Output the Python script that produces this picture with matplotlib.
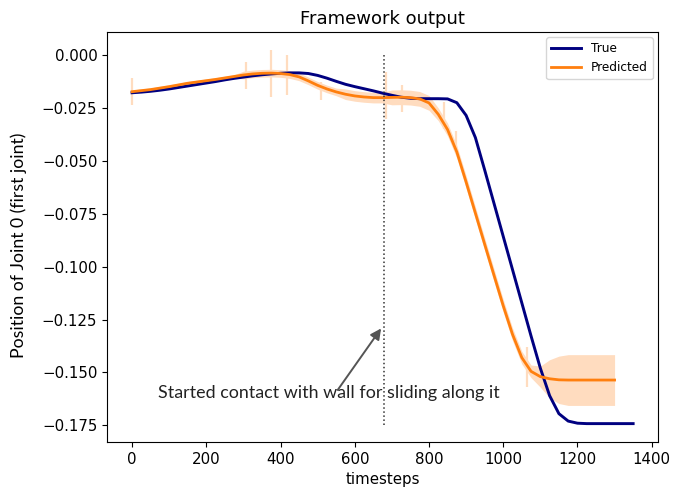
import numpy as np
import matplotlib.pyplot as plt

# Joint 0 position: ground truth vs framework prediction
true_steps = np.arange(0, 1351, 25)
true_pos = [
    -0.0178, -0.0175, -0.0171, -0.0166, -0.0160, -0.0153, -0.0146, -0.0139,
    -0.0132, -0.0125, -0.0117, -0.0110, -0.0104, -0.0098, -0.0093, -0.0089,
    -0.0086, -0.0084, -0.0084, -0.0087, -0.0096, -0.0109, -0.0124, -0.0138,
    -0.0149, -0.0159, -0.0169, -0.0180, -0.0190, -0.0199, -0.0204, -0.0206,
    -0.0206, -0.0206, -0.0207, -0.0225, -0.0285, -0.0390, -0.0543, -0.0700,
    -0.0857, -0.1014, -0.1171, -0.1328, -0.1480, -0.1610, -0.1695, -0.1730,
    -0.1740, -0.1742, -0.1742, -0.1742, -0.1742, -0.1742, -0.1742,
]

pred_steps = np.arange(0, 1301, 25)
pred_pos = [
    -0.0173, -0.0168, -0.0163, -0.0156, -0.0149, -0.0141, -0.0133, -0.0127,
    -0.0121, -0.0115, -0.0108, -0.0101, -0.0094, -0.0089, -0.0086, -0.0085,
    -0.0087, -0.0092, -0.0103, -0.0122, -0.0143, -0.0160, -0.0174, -0.0185,
    -0.0193, -0.0198, -0.0201, -0.0201, -0.0200, -0.0199, -0.0201, -0.0207,
    -0.0226, -0.0280, -0.0352, -0.0458, -0.0600, -0.0747, -0.0894, -0.1040,
    -0.1185, -0.1320, -0.1430, -0.1495, -0.1520, -0.1530, -0.1535, -0.1536,
    -0.1536, -0.1536, -0.1536, -0.1536, -0.1536,
]
pred_std = [
    0.0008, 0.0008, 0.0008, 0.0008, 0.0008, 0.0008, 0.0008, 0.0008,
    0.0008, 0.0008, 0.0008, 0.0008, 0.0018, 0.0018, 0.0018, 0.0018,
    0.0018, 0.0018, 0.0018, 0.0018, 0.0018, 0.0018, 0.0018, 0.0025,
    0.0025, 0.0025, 0.0025, 0.0025, 0.0035, 0.0035, 0.0035, 0.0035,
    0.0035, 0.0030, 0.0030, 0.0030, 0.0030, 0.0030, 0.0030, 0.0030,
    0.0030, 0.0030, 0.0030, 0.0030, 0.0050, 0.0090, 0.0112, 0.0120,
    0.0120, 0.0120, 0.0120, 0.0120, 0.0120,
]

# single timesteps where the prediction spread jumps
spike_steps = [0, 306, 375, 418, 508, 684, 728, 841, 873, 1065]
spike_low = [-0.0236, -0.0162, -0.0197, -0.0190, -0.0213, -0.0300, -0.0268,
             -0.0347, -0.0450, -0.1570]
spike_high = [-0.0110, -0.0032, 0.0024, 0.0000, -0.0126, -0.0080, -0.0142,
              -0.0220, -0.0360, -0.1380]

contact_step = 680
contact_range = (-0.175, 0.0)
arrow_head = (671, -0.1292)
arrow_tail = (554, -0.1583)
note_pos = (531, -0.1597)

band_color = '#ffdcbf'

fig = plt.figure(figsize=(6.73, 4.93), dpi=100)
ax = fig.add_axes([0.159, 0.1034, 0.819, 0.8316])

pred_pos = np.array(pred_pos)
pred_std = np.array(pred_std)
ax.fill_between(pred_steps, pred_pos - pred_std, pred_pos + pred_std,
                color=band_color, linewidth=0, zorder=1)
ax.vlines(spike_steps, spike_low, spike_high, color=band_color,
          linewidth=1.6, zorder=1)

ax.plot(true_steps, true_pos, color='navy', linewidth=2.1, label='True', zorder=3)
ax.plot(pred_steps, pred_pos, color='tab:orange', linewidth=2,
        label='Predicted', zorder=3)

ax.vlines(contact_step, *contact_range, colors='#333333', linestyles=':',
          linewidth=1.1, zorder=4)

ax.annotate('', xy=arrow_head, xytext=arrow_tail,
            arrowprops=dict(arrowstyle='-|>', color='#555555', lw=1.4,
                            mutation_scale=16, shrinkA=0, shrinkB=0))
ax.text(*note_pos, 'Started contact with wall for sliding along it',
        ha='center', va='center', fontsize=12.9, family='Lato', color='#222222')

ax.set_ylim(-0.1829, 0.0109)
ax.tick_params(labelsize=10.8)
ax.set_title('Framework output', fontsize=13, family='DejaVu Sans')
ax.set_xlabel('timesteps', fontsize=10.8, family='DejaVu Sans')
ax.set_ylabel('Position of Joint 0 (first joint)', fontsize=12.7, family='Lato')
ax.yaxis.set_label_coords(-0.145, 0.48)
ax.legend(loc='upper right', fontsize=8.7, handlelength=2.5,
          borderaxespad=0.45)

fig.savefig('out.png', dpi=100)
